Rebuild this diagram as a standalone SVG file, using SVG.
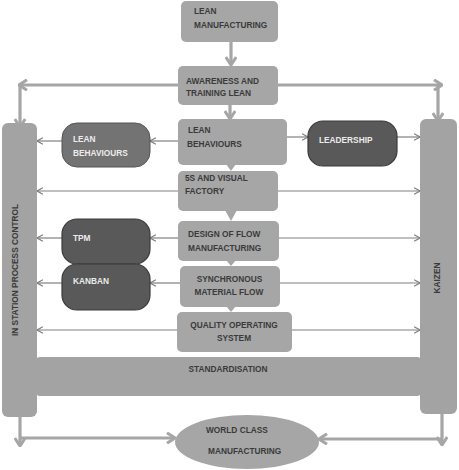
<svg xmlns="http://www.w3.org/2000/svg" width="459" height="470" viewBox="0 0 459 470">
<style>
  text { font-family: "Liberation Sans", Arial, sans-serif; font-weight: bold; font-size: 8.3px; }
  .dk { fill: #3a3a3a; }
  .lt { fill: #ececec; }
  .box { fill: #a6a6a6; }
  .pillar { fill: #a3a3a3; }
  .pillA { fill: #737373; stroke: #555555; stroke-width: 1; }
  .pillB { fill: #595959; stroke: #3a3a3a; stroke-width: 1.2; }
  .thick { stroke: #a6a6a6; stroke-width: 3.2; fill: none; }
  .thin { stroke: #808080; stroke-width: 1.2; fill: none; }
</style>
<defs>
  <marker id="mThick" viewBox="0 0 12 12" refX="11" refY="6" markerWidth="12" markerHeight="12" markerUnits="userSpaceOnUse" orient="auto-start-reverse">
    <path d="M3,0.8 L11,6 L3,11.2" fill="none" stroke="#a6a6a6" stroke-width="3"/>
  </marker>
  <marker id="mThin" viewBox="0 0 8 8" refX="7.4" refY="4" markerWidth="8" markerHeight="8" markerUnits="userSpaceOnUse" orient="auto-start-reverse">
    <path d="M1.5,0.8 L7.4,4 L1.5,7.2" fill="none" stroke="#808080" stroke-width="1.2"/>
  </marker>
</defs>
<rect width="459" height="470" fill="#ffffff"/>

<g id="connectors">
  <path class="thick" d="M231,42 V65" marker-end="url(#mThick)"/>
  <path class="thick" d="M230,105 V119" marker-end="url(#mThick)"/>
  <path class="thick" d="M180,85 H19" marker-end="url(#mThick)"/>
  <path class="thick" d="M276,85 H442" marker-end="url(#mThick)"/>
  <path class="thick" d="M20,85 V127" marker-end="url(#mThick)"/>
  <path class="thick" d="M438,85 V121" marker-end="url(#mThick)"/>
  <path class="thick" d="M20,416 V446" marker-end="url(#mThick)"/>
  <path class="thick" d="M20,438 H175" marker-end="url(#mThick)"/>
  <path class="thick" d="M442,414 V445" marker-end="url(#mThick)"/>
  <path class="thick" d="M442,439 H319" marker-end="url(#mThick)"/>

  <path class="thin" d="M178,141 H150" marker-end="url(#mThin)"/>
  <path class="thin" d="M62,141 H37" marker-end="url(#mThin)"/>
  <path class="thin" d="M287,137 H308" marker-end="url(#mThin)"/>
  <path class="thin" d="M397,137 H420" marker-end="url(#mThin)"/>
  <path class="thin" d="M37,191 H420" marker-start="url(#mThin)" marker-end="url(#mThin)"/>
  <path class="thin" d="M178,238 H150" marker-end="url(#mThin)"/>
  <path class="thin" d="M62,238 H37" marker-end="url(#mThin)"/>
  <path class="thin" d="M279,238 H420" marker-end="url(#mThin)"/>
  <path class="thin" d="M180,283 H150" marker-end="url(#mThin)"/>
  <path class="thin" d="M62,283 H37" marker-end="url(#mThin)"/>
  <path class="thin" d="M280,283 H420" marker-end="url(#mThin)"/>
  <path class="thin" d="M37,330 H420" marker-start="url(#mThin)" marker-end="url(#mThin)"/>
</g>

<g id="in-station-process-control">
  <rect class="pillar" x="2" y="123" width="35" height="294" rx="6"/>
  <text class="dk" transform="translate(18,270) rotate(-90)" text-anchor="middle">IN STATION PROCESS CONTROL</text>
</g>

<g id="kaizen">
  <rect class="pillar" x="420" y="119" width="37" height="295" rx="6"/>
  <text class="dk" transform="translate(440,278) rotate(-90)" text-anchor="middle">KAIZEN</text>
</g>

<g id="standardisation">
  <rect class="pillar" x="36" y="357" width="385" height="39" rx="4"/>
  <text class="dk" x="228" y="372" text-anchor="middle">STANDARDISATION</text>
</g>

<g id="lean-manufacturing">
  <rect class="box" x="181" y="1" width="97" height="41" rx="5"/>
  <text class="dk" x="194" y="14">LEAN</text>
  <text class="dk" x="194" y="27.5">MANUFACTURING</text>
</g>

<g id="awareness-training">
  <rect class="box" x="178" y="66" width="100" height="39" rx="5"/>
  <text class="dk" x="186" y="83.5">AWARENESS AND</text>
  <text class="dk" x="186" y="96">TRAINING LEAN</text>
</g>

<g id="lean-behaviours">
  <rect class="box" x="178" y="119" width="109" height="46" rx="5"/>
  <polygon class="box" points="226,164 236,164 231,171"/>
  <text class="dk" x="188" y="133">LEAN</text>
  <text class="dk" x="187" y="147">BEHAVIOURS</text>
</g>

<g id="lean-behaviours-side">
  <rect class="pillA" x="62" y="123" width="88" height="44" rx="15"/>
  <text class="lt" x="73" y="142">LEAN</text>
  <text class="lt" x="73" y="155.5">BEHAVIOURS</text>
</g>

<g id="leadership">
  <rect class="pillB" x="308" y="121" width="89" height="45" rx="15"/>
  <text class="lt" x="319" y="143">LEADERSHIP</text>
</g>

<g id="five-s-visual-factory">
  <rect class="box" x="178" y="171" width="100" height="40" rx="5"/>
  <polygon class="box" points="225,210 237,210 231,221"/>
  <text class="dk" x="185" y="181">5S AND VISUAL</text>
  <text class="dk" x="185" y="194">FACTORY</text>
</g>

<g id="design-of-flow">
  <rect class="box" x="178" y="221" width="101" height="40" rx="5"/>
  <polygon class="box" points="226,260 236,260 231,266"/>
  <text class="dk" x="188" y="237">DESIGN OF FLOW</text>
  <text class="dk" x="188" y="251">MANUFACTURING</text>
</g>

<g id="tpm">
  <rect class="pillB" x="62" y="219" width="88" height="45" rx="15"/>
  <text class="lt" x="73" y="241">TPM</text>
</g>

<g id="kanban">
  <rect class="pillB" x="62" y="264" width="88" height="46" rx="15"/>
  <text class="lt" x="73" y="284">KANBAN</text>
</g>

<g id="synchronous-material-flow">
  <rect class="box" x="180" y="266" width="100" height="41" rx="5"/>
  <polygon class="box" points="226,306 236,306 231,312"/>
  <text class="dk" x="229.5" y="282" text-anchor="middle">SYNCHRONOUS</text>
  <text class="dk" x="229" y="295" text-anchor="middle">MATERIAL FLOW</text>
</g>

<g id="quality-operating-system">
  <rect class="box" x="177" y="312" width="115" height="40" rx="5"/>
  <text class="dk" x="234" y="327.5" text-anchor="middle">QUALITY OPERATING</text>
  <text class="dk" x="234" y="341" text-anchor="middle">SYSTEM</text>
</g>

<g id="world-class-manufacturing">
  <ellipse class="box" cx="247" cy="442" rx="72" ry="27"/>
  <text class="dk" x="206" y="433">WORLD CLASS</text>
  <text class="dk" x="208" y="454">MANUFACTURING</text>
</g>
</svg>
